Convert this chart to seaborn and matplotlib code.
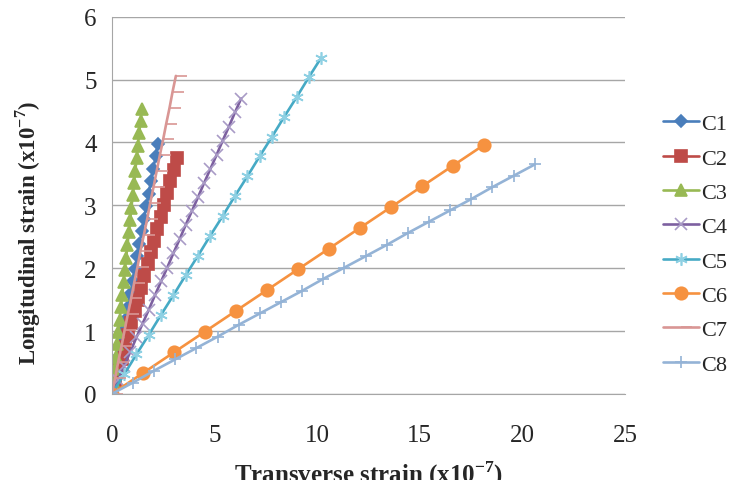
import numpy as np
import pandas as pd
import matplotlib
matplotlib.use('Agg')
import matplotlib.pyplot as plt
import seaborn as sns

# strain readings per specimen (x10^-7)
c1_x = [0, 0.11, 0.22, 0.34, 0.45, 0.56, 0.67, 0.78, 0.90, 1.01, 1.12, 1.23, 1.34, 1.46, 1.57, 1.68, 1.79, 1.90, 2.02, 2.13, 2.24]
c1_y = [0, 0.20, 0.40, 0.60, 0.80, 1.00, 1.19, 1.39, 1.59, 1.79, 1.99, 2.19, 2.39, 2.59, 2.79, 2.99, 3.18, 3.38, 3.58, 3.78, 3.98]

c2_x = [0, 0.16, 0.32, 0.48, 0.63, 0.79, 0.95, 1.11, 1.27, 1.43, 1.59, 1.74, 1.90, 2.06, 2.22, 2.38, 2.54, 2.69, 2.85, 3.01, 3.17]
c2_y = [0, 0.19, 0.38, 0.56, 0.75, 0.94, 1.13, 1.32, 1.50, 1.69, 1.88, 2.07, 2.26, 2.44, 2.63, 2.82, 3.01, 3.20, 3.38, 3.57, 3.76]

c3_x = [0, 0.06, 0.13, 0.19, 0.25, 0.32, 0.38, 0.44, 0.51, 0.57, 0.63, 0.70, 0.76, 0.83, 0.89, 0.95, 1.02, 1.08, 1.14, 1.21, 1.27, 1.33, 1.40, 1.46]
c3_y = [0, 0.20, 0.39, 0.59, 0.79, 0.99, 1.18, 1.38, 1.58, 1.78, 1.97, 2.17, 2.37, 2.57, 2.76, 2.96, 3.16, 3.36, 3.55, 3.75, 3.95, 4.15, 4.34, 4.54]

c4_x = [0, 0.30, 0.60, 0.90, 1.20, 1.50, 1.80, 2.10, 2.40, 2.70, 3.00, 3.30, 3.60, 3.90, 4.20, 4.50, 4.80, 5.10, 5.40, 5.70, 6.00, 6.30]
c4_y = [0, 0.22, 0.45, 0.67, 0.90, 1.12, 1.34, 1.57, 1.79, 2.01, 2.24, 2.46, 2.69, 2.91, 3.13, 3.36, 3.58, 3.80, 4.03, 4.25, 4.48, 4.70]

c5_x = [0, 0.60, 1.20, 1.80, 2.40, 3.00, 3.60, 4.20, 4.80, 5.40, 6.00, 6.60, 7.20, 7.80, 8.40, 9.00, 9.60, 10.20]
c5_y = [0, 0.31, 0.63, 0.94, 1.26, 1.57, 1.89, 2.20, 2.52, 2.83, 3.15, 3.46, 3.78, 4.09, 4.41, 4.72, 5.04, 5.35]

c6_x = [0, 1.51, 3.02, 4.53, 6.04, 7.55, 9.06, 10.57, 12.08, 13.59, 15.10, 16.61, 18.12]
c6_y = [0, 0.33, 0.66, 0.99, 1.32, 1.65, 1.98, 2.31, 2.64, 2.97, 3.30, 3.63, 3.96]

c7_x = [0, 0.16, 0.31, 0.47, 0.62, 0.78, 0.94, 1.09, 1.25, 1.40, 1.56, 1.72, 1.87, 2.03, 2.18, 2.34, 2.50, 2.65, 2.81, 2.96, 3.12]
c7_y = [0, 0.25, 0.51, 0.76, 1.01, 1.27, 1.52, 1.77, 2.02, 2.28, 2.53, 2.78, 3.04, 3.29, 3.54, 3.80, 4.05, 4.30, 4.55, 4.81, 5.06]

c8_x = [0, 1.03, 2.06, 3.09, 4.12, 5.15, 6.18, 7.21, 8.24, 9.27, 10.30, 11.33, 12.36, 13.39, 14.42, 15.45, 16.48, 17.51, 18.54, 19.57, 20.60]
c8_y = [0, 0.18, 0.37, 0.55, 0.73, 0.91, 1.10, 1.28, 1.46, 1.64, 1.83, 2.01, 2.19, 2.37, 2.56, 2.74, 2.92, 3.10, 3.29, 3.47, 3.65]

labels = ['C1', 'C2', 'C3', 'C4', 'C5', 'C6', 'C7', 'C8']
xs = [c1_x, c2_x, c3_x, c4_x, c5_x, c6_x, c7_x, c8_x]
ys = [c1_y, c2_y, c3_y, c4_y, c5_y, c6_y, c7_y, c8_y]

x_ticks = [0, 5, 10, 15, 20, 25]
y_ticks = [0, 1, 2, 3, 4, 5, 6]

# style per series: line colour, marker, marker size, marker colour
styles = {
    'C1': ('#4A7EBB', 'D', 6, '#4A7EBB'),
    'C2': ('#BE4B48', 's', 8, '#BE4B48'),
    'C3': ('#98B954', '^', 8.5, '#98B954'),
    'C4': ('#7D60A0', 'x', 8, '#A99BC6'),
    'C5': ('#46AAC5', (6, 2, 0), 9, '#8ED0E3'),
    'C6': ('#F69240', 'o', 9, '#F69240'),
    'C7': ('#D99694', 1, 8, '#D99694'),
    'C8': ('#94B3D6', '+', 9, '#94B3D6'),
}

sns.set_style('white')
plt.rcParams['font.family'] = ['Liberation Serif', 'DejaVu Serif']
plt.rcParams['mathtext.fontset'] = 'custom'
plt.rcParams['mathtext.rm'] = 'Liberation Serif'
plt.rcParams['mathtext.bf'] = 'Liberation Serif:bold'

fig = plt.figure(figsize=(7.31, 4.81), dpi=100)
ax = fig.add_axes([0.153, 0.179, 0.702, 0.784])

for lab, x, y in zip(labels, xs, ys):
    col, mk, ms, mcol = styles[lab]
    df = pd.DataFrame({'x': x, 'y': y})
    sns.lineplot(data=df, x='x', y='y', ax=ax, sort=False, color=col, lw=1.9,
                 marker=mk, markersize=ms, markerfacecolor=mcol,
                 markeredgecolor=mcol, markeredgewidth=1.2, label=lab)

ax.set_xlim(0, 25)
ax.set_ylim(0, 6)
ax.set_xticks(x_ticks)
ax.set_yticks(y_ticks)
ax.tick_params(length=0, labelsize=18)
ax.tick_params(axis='x', pad=22)
ax.tick_params(axis='y', pad=11)
ax.yaxis.grid(True, color='#A6A6A6', lw=1)
ax.xaxis.grid(False)
for s in ['top', 'right']:
    ax.spines[s].set_visible(False)
ax.spines['left'].set_color('#A6A6A6')
ax.spines['bottom'].set_color('#A6A6A6')

ax.set_xlabel(r'Transverse strain (x10$^{\mathbf{-7}}$)', fontsize=18, fontweight='bold')
ax.set_ylabel(r'Longitudinal strain (x10$^{\mathbf{-7}}$)', fontsize=16.5, fontweight='bold')
ax.xaxis.set_label_coords(0.5, -0.172)
ax.yaxis.set_label_coords(-0.135, 0.43)

ax.legend(loc='upper left', bbox_to_anchor=(0.895, 0.78), bbox_transform=fig.transFigure,
          frameon=False, fontsize=16, handlelength=1.6, handletextpad=0.1,
          labelspacing=0.62, borderaxespad=0)

fig.savefig('out.png', dpi=100)
